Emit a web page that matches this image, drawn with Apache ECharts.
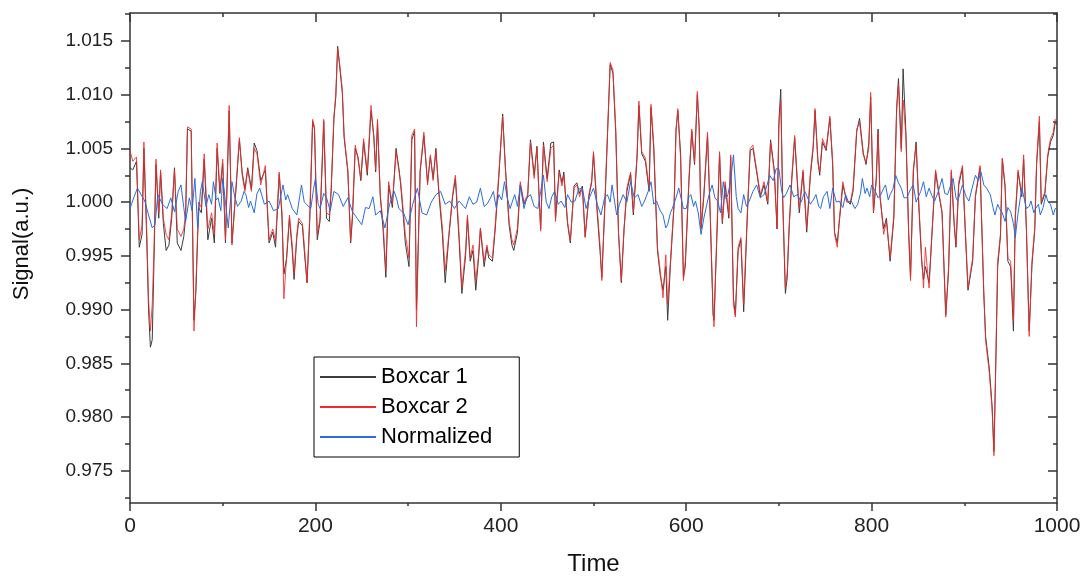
<!DOCTYPE html>
<html>
<head>
<meta charset="utf-8">
<script src="https://cdn.jsdelivr.net/npm/echarts@6/dist/echarts.min.js"></script>
<style>
  html, body { margin: 0; padding: 0; background: #fff; }
  #chart { width: 1081px; height: 578px; }
</style>
</head>
<body>
<div id="chart"></div>
<script>
// boxcar traces share one time base
const boxTime = [
  0,3,7,10,13,15,18,20,22,24,
  26,28,31,33,36,39,42,45,48,51,
  55,58,60,62,66,69,71,74,77,80,
  84,88,91,94,97,100,103,107,110,114,
  118,121,124,127,131,134,137,141,146,150,
  154,157,161,164,166,169,172,175,177,180,
  182,186,188,191,194,197,199,202,205,209,
  212,215,217,220,222,224,226,229,231,235,
  238,240,243,246,249,252,256,260,263,265,
  267,270,273,276,279,283,287,290,292,295,
  297,301,304,307,309,311,313,317,321,324,
  327,330,333,337,340,344,348,351,355,358,
  362,364,367,370,373,376,378,382,385,387,
  391,394,398,402,405,409,412,414,418,421,
  425,429,432,436,439,441,443,446,450,454,
  457,459,463,466,468,472,475,479,482,485,
  488,491,495,498,500,504,507,509,512,515,
  518,521,524,527,530,533,536,540,543,547,
  549,552,556,560,562,565,569,572,575,578,
  580,583,587,589,591,594,597,599,603,606,
  609,612,614,616,619,623,626,629,630,633,
  636,639,642,646,648,651,653,656,659,662,
  666,669,672,676,680,684,688,691,695,698,
  700,702,704,707,709,711,714,717,720,722,
  726,730,734,737,739,742,744,747,751,755,
  758,760,763,765,769,773,777,780,784,787,
  791,794,797,799,802,805,807,809,813,816,
  820,824,827,829,832,834,837,840,842,845,
  848,851,854,856,858,862,865,869,873,876,
  880,883,886,889,891,894,898,901,904,909,
  912,917,921,923,927,930,932,934,936,939,
  941,944,947,950,953,955,958,962,964,967,
  970,973,976,978,981,983,987,990,993,996,
  998,1000
];

const boxcar1 = [
  1.0032,1.0030,1.0038,0.9958,0.9970,1.0050,0.9968,0.9900,0.9865,0.9872,
  0.9950,1.0035,0.9985,1.0028,0.9980,0.9955,0.9960,0.9985,1.0032,0.9962,
  0.9955,0.9968,0.9985,1.0068,1.0066,0.9890,0.9915,0.9995,0.9990,1.0040,
  0.9965,0.9985,0.9962,1.0050,1.0008,1.0036,0.9962,1.0085,0.9962,1.0008,
  1.0058,1.0028,1.0012,1.0032,1.0012,1.0055,1.0048,1.0020,1.0030,0.9962,
  0.9972,0.9958,1.0026,0.9985,0.9933,0.9948,0.9985,0.9955,0.9928,0.9968,
  0.9982,0.9978,0.9955,0.9925,0.9985,1.0075,1.0068,0.9965,0.9982,1.0075,
  0.9985,0.9982,1.0010,1.0078,1.0098,1.0145,1.0128,1.0102,1.0060,1.0028,
  0.9962,0.9985,1.0050,1.0042,1.0020,1.0056,1.0025,1.0085,1.0062,1.0028,
  1.0074,1.0005,0.9975,0.9930,1.0016,0.9995,1.0050,1.0032,1.0016,0.9985,
  0.9962,0.9940,1.0058,1.0066,0.9900,0.9962,1.0028,1.0062,1.0018,1.0042,
  1.0022,1.0050,1.0010,0.9970,0.9925,0.9968,1.0005,1.0022,0.9965,0.9915,
  0.9950,0.9985,0.9945,0.9955,0.9918,0.9948,0.9975,0.9940,0.9958,0.9948,
  0.9945,0.9975,1.0025,1.0082,1.0032,0.9978,0.9960,0.9955,0.9972,1.0016,
  0.9998,1.0005,1.0058,1.0025,1.0052,1.0012,0.9975,1.0056,1.0022,1.0055,
  1.0056,0.9985,1.0030,1.0018,1.0028,0.9980,0.9962,1.0015,1.0018,1.0008,
  1.0015,0.9968,1.0005,1.0018,1.0045,0.9990,0.9955,0.9930,0.9990,1.0060,
  1.0128,1.0120,1.0065,0.9972,0.9925,0.9975,1.0010,1.0026,0.9988,1.0042,
  1.0090,1.0045,1.0038,1.0010,1.0088,1.0050,0.9955,0.9932,0.9918,0.9940,
  0.9890,0.9942,0.9998,1.0066,1.0085,1.0044,0.9930,0.9940,1.0020,1.0066,
  1.0035,1.0100,1.0070,0.9975,1.0005,1.0062,0.9985,0.9895,0.9890,0.9965,
  1.0044,0.9980,1.0016,0.9985,1.0042,0.9910,0.9895,0.9955,0.9965,0.9898,
  0.9988,1.0048,1.0050,1.0028,1.0005,1.0016,0.9998,1.0058,1.0030,0.9975,
  1.0075,1.0105,1.0005,0.9915,0.9930,0.9975,1.0022,1.0060,1.0016,0.9990,
  1.0028,0.9972,1.0025,1.0050,1.0085,1.0040,1.0025,1.0056,1.0048,1.0078,
  1.0035,0.9972,0.9962,0.9980,1.0016,1.0002,0.9998,1.0010,1.0066,1.0078,
  1.0046,1.0035,1.0055,1.0098,0.9990,1.0022,1.0068,1.0005,0.9975,0.9985,
  0.9945,0.9985,1.0088,1.0115,1.0050,1.0124,1.0065,0.9972,0.9930,1.0028,
  1.0056,0.9995,0.9945,0.9928,0.9940,0.9925,0.9968,1.0028,1.0005,0.9990,
  0.9895,0.9935,1.0028,0.9980,0.9958,1.0016,1.0032,0.9974,0.9918,0.9945,
  1.0005,1.0032,0.9915,0.9875,0.9845,0.9810,0.9768,0.9850,0.9940,0.9968,
  1.0040,1.0014,0.9945,0.9940,0.9880,0.9985,1.0028,1.0005,1.0040,0.9974,
  0.9880,0.9942,0.9974,1.0035,1.0075,0.9998,1.0008,1.0042,1.0056,1.0062,
  1.0074,1.0072
];

const boxcar2 = [
  1.0048,1.0038,1.0042,0.9965,0.9978,1.0056,0.9975,0.9910,0.9880,0.9905,
  0.9960,1.0040,0.9990,1.0030,0.9985,0.9970,0.9965,0.9990,1.0030,0.9975,
  0.9968,0.9975,0.9990,1.0070,1.0068,0.9880,0.9920,1.0000,0.9995,1.0045,
  0.9975,0.9990,0.9970,1.0055,1.0010,1.0040,0.9965,1.0090,0.9960,1.0010,
  1.0060,1.0025,1.0010,1.0030,1.0010,1.0050,1.0045,1.0016,1.0034,0.9965,
  0.9975,0.9964,1.0028,0.9990,0.9910,0.9950,0.9988,0.9960,0.9933,0.9970,
  0.9985,0.9980,0.9960,0.9925,0.9990,1.0077,1.0070,0.9970,0.9985,1.0077,
  0.9990,0.9988,1.0013,1.0080,1.0100,1.0143,1.0130,1.0105,1.0062,1.0030,
  0.9964,0.9990,1.0053,1.0040,1.0022,1.0059,1.0028,1.0090,1.0060,1.0030,
  1.0077,1.0007,0.9980,0.9936,1.0019,0.9998,1.0047,1.0030,1.0019,0.9990,
  0.9970,0.9948,1.0062,1.0068,0.9884,0.9960,1.0030,1.0065,1.0016,1.0044,
  1.0020,1.0047,1.0013,0.9976,0.9936,0.9970,1.0007,1.0025,0.9970,0.9920,
  0.9955,0.9988,0.9948,0.9960,0.9927,0.9950,0.9976,0.9945,0.9960,0.9951,
  0.9948,0.9979,1.0028,1.0080,1.0030,0.9982,0.9965,0.9960,0.9976,1.0019,
  1.0000,1.0007,1.0056,1.0022,1.0050,1.0010,0.9973,1.0053,1.0019,1.0050,
  1.0053,0.9982,1.0028,1.0015,1.0025,0.9982,0.9964,1.0013,1.0016,1.0005,
  1.0013,0.9967,1.0007,1.0020,1.0047,0.9994,0.9960,0.9927,0.9994,1.0062,
  1.0130,1.0123,1.0068,0.9970,0.9927,0.9976,1.0013,1.0028,0.9991,1.0044,
  1.0094,1.0047,1.0041,1.0013,1.0091,1.0053,0.9958,0.9936,0.9911,0.9951,
  0.9905,0.9945,1.0000,1.0068,1.0087,1.0040,0.9927,0.9945,1.0022,1.0068,
  1.0037,1.0103,1.0068,0.9976,1.0007,1.0065,0.9988,0.9899,0.9884,0.9970,
  1.0047,0.9982,1.0019,0.9988,1.0044,0.9905,0.9893,0.9958,0.9967,0.9905,
  0.9991,1.0050,1.0053,1.0030,1.0007,1.0019,1.0000,1.0056,1.0028,0.9976,
  1.0071,1.0095,1.0007,0.9920,0.9935,0.9976,1.0025,1.0062,1.0019,0.9994,
  1.0030,0.9976,1.0028,1.0053,1.0087,1.0037,1.0028,1.0059,1.0050,1.0080,
  1.0037,0.9970,0.9958,0.9982,1.0019,1.0000,1.0000,1.0013,1.0068,1.0074,
  1.0044,1.0037,1.0050,1.0102,0.9991,1.0020,1.0065,1.0007,0.9970,0.9982,
  0.9948,0.9988,1.0084,1.0110,1.0047,1.0095,1.0062,0.9970,0.9927,1.0030,
  1.0053,0.9998,0.9948,0.9920,0.9958,0.9920,0.9970,1.0030,1.0007,0.9991,
  0.9893,0.9939,1.0030,0.9982,0.9960,1.0019,1.0034,0.9976,0.9920,0.9948,
  1.0007,1.0034,0.9917,0.9871,0.9841,0.9807,0.9764,0.9853,0.9945,0.9970,
  1.0041,1.0016,0.9948,0.9945,0.9889,0.9988,1.0030,1.0007,1.0044,0.9976,
  0.9875,0.9945,0.9976,1.0037,1.0080,1.0000,1.0010,1.0044,1.0059,1.0065,
  1.0077,1.0075
];

const normTime = [
  0,4,8,12,16,20,24,27,30,35,
  40,44,48,52,55,58,60,64,67,70,
  73,76,78,82,85,88,90,93,95,98,
  100,103,106,110,113,116,120,123,125,128,
  130,134,137,140,145,150,155,160,165,168,
  170,175,180,183,185,188,190,195,198,200,
  203,205,209,212,216,220,225,230,235,240,
  245,250,254,258,262,265,270,275,280,285,
  288,290,295,300,305,310,315,320,325,330,
  335,340,345,350,355,360,362,366,370,374,
  378,382,385,389,392,395,398,401,404,407,
  410,413,415,418,421,425,428,432,436,440,
  443,446,449,452,455,458,462,465,469,472,
  476,480,484,488,492,496,500,504,508,512,
  515,518,520,525,528,532,536,540,544,548,
  552,555,559,562,565,568,572,575,578,580,
  583,585,589,592,594,597,600,603,605,608,
  610,613,616,619,622,625,628,631,634,637,
  640,643,645,648,651,654,656,659,662,665,
  668,672,676,680,684,687,690,694,697,700,
  703,705,708,712,716,720,724,728,731,734,
  737,740,743,745,748,752,755,758,762,765,
  769,772,775,778,782,785,788,790,793,795,
  798,800,804,807,810,813,815,818,820,823,
  826,829,832,835,838,842,845,848,850,853,
  856,859,862,865,868,872,876,879,882,885,
  888,891,893,896,898,902,905,909,912,915,
  918,921,924,928,931,933,936,938,941,944,
  947,950,953,955,958,962,965,967,970,972,
  975,977,980,982,985,988,990,993,996,998,
  1000
];

const normalized = [
  0.9994,1.0004,1.0013,1.0007,1.0001,0.9988,0.9976,0.9979,1.0007,0.9998,
  0.9994,1.0004,0.9991,1.0010,1.0016,0.9995,0.9982,1.0004,0.9992,1.0022,
  0.9976,1.0010,1.0019,0.9996,1.0007,0.9998,1.0019,1.0002,1.0004,0.9992,
  1.0022,1.0000,0.9976,1.0019,1.0005,0.9996,1.0001,1.0010,1.0007,0.9995,
  1.0001,0.9990,1.0008,1.0013,0.9998,1.0001,0.9992,0.9994,1.0016,1.0002,
  1.0007,0.9994,0.9988,1.0005,1.0016,1.0000,1.0001,0.9994,1.0012,1.0022,
  0.9998,0.9994,1.0008,1.0004,0.9992,1.0010,1.0007,0.9996,1.0004,0.9991,
  0.9985,0.9979,0.9995,0.9994,1.0005,0.9988,0.9992,0.9976,0.9998,1.0010,
  1.0002,0.9994,0.9990,0.9979,0.9998,1.0013,0.9990,0.9988,1.0000,1.0007,
  1.0010,0.9998,1.0001,0.9994,1.0001,0.9996,0.9994,1.0005,0.9998,1.0000,
  1.0013,0.9996,0.9998,1.0004,1.0010,0.9995,1.0007,1.0002,1.0019,1.0004,
  0.9994,1.0002,1.0007,0.9996,1.0016,0.9994,1.0004,1.0007,0.9996,0.9994,
  1.0010,1.0025,1.0000,0.9994,1.0005,1.0010,0.9998,1.0001,0.9995,1.0007,
  1.0000,1.0001,1.0012,1.0013,0.9994,1.0005,1.0013,0.9998,0.9988,1.0004,
  1.0007,1.0000,1.0016,0.9988,0.9998,1.0007,1.0000,1.0019,1.0004,1.0007,
  0.9996,1.0001,1.0010,1.0019,0.9998,1.0001,0.9992,0.9988,0.9976,0.9979,
  0.9990,0.9994,1.0004,1.0013,1.0013,0.9994,0.9994,1.0005,1.0007,0.9996,
  1.0001,0.9990,0.9970,0.9985,0.9997,1.0008,1.0016,1.0004,1.0001,0.9990,
  1.0019,1.0003,1.0007,1.0020,1.0044,1.0005,0.9994,0.9990,1.0007,0.9996,
  1.0001,1.0010,1.0016,1.0004,1.0007,1.0015,1.0025,1.0020,1.0031,1.0031,
  1.0010,1.0004,1.0008,1.0016,1.0005,1.0007,1.0000,1.0010,1.0004,0.9998,
  1.0002,1.0007,0.9996,0.9994,1.0005,1.0010,0.9994,1.0013,1.0000,1.0001,
  0.9995,1.0007,1.0000,1.0001,0.9994,0.9998,1.0008,1.0022,1.0008,1.0013,
  1.0005,1.0016,1.0010,1.0004,1.0007,1.0013,1.0016,1.0002,1.0007,1.0012,
  1.0025,1.0018,1.0013,1.0004,1.0004,1.0012,1.0016,1.0000,1.0001,1.0010,
  1.0019,1.0005,1.0013,1.0006,1.0001,1.0010,1.0022,1.0008,1.0007,1.0015,
  1.0022,1.0004,1.0001,1.0010,1.0016,1.0005,1.0001,1.0015,1.0025,1.0020,
  1.0028,1.0016,1.0013,1.0007,0.9995,0.9988,0.9998,0.9994,0.9990,0.9982,
  0.9995,0.9991,0.9980,0.9967,0.9990,1.0013,1.0002,0.9994,0.9996,1.0001,
  0.9990,0.9994,0.9998,0.9988,0.9995,1.0007,1.0001,0.9998,0.9988,0.9994,
  0.9994
];

// axis ticks
const xMajor = [0, 200, 400, 600, 800, 1000];
const xMinor = [100, 300, 500, 700, 900];
const yMajor = [0.975, 0.980, 0.985, 0.990, 0.995, 1.000, 1.005, 1.010, 1.015];
const yMinor = [0.9725, 0.9775, 0.9825, 0.9875, 0.9925, 0.9975, 1.0025, 1.0075, 1.0125, 1.0175];

const seriesNames = ['Boxcar 1', 'Boxcar 2', 'Normalized'];
const seriesColors = ['#3c3c3c', '#f22a2a', '#2a6ddc'];

function pairs(xs, ys) {
  return xs.map((x, i) => [x, ys[i]]);
}

const frame = { color: '#333', width: 1.5 };
const sans = 'Liberation Sans, Arial, sans-serif';
const narrow = 'Liberation Sans Narrow, Arial Narrow, Liberation Sans, sans-serif';

function xAx(pos, ticks, len, inside, withLine, withLabel) {
  return {
    type: 'value', min: 0, max: 1000, position: pos,
    axisLine: { show: withLine, onZero: false, lineStyle: frame },
    axisTick: { show: true, customValues: ticks, length: len, inside: inside, lineStyle: frame },
    axisLabel: withLabel
      ? { show: true, customValues: ticks, formatter: v => String(v), fontSize: 21, color: '#222', fontFamily: narrow, margin: 13 }
      : { show: false },
    splitLine: { show: false }
  };
}

function yAx(pos, ticks, len, inside, withLine, withLabel) {
  return {
    type: 'value', min: 0.972, max: 1.0176, position: pos,
    axisLine: { show: withLine, onZero: false, lineStyle: frame },
    axisTick: { show: true, customValues: ticks, length: len, inside: inside, lineStyle: frame },
    axisLabel: withLabel
      ? { show: true, customValues: ticks, formatter: v => v.toFixed(3), fontSize: 19, color: '#222', fontFamily: sans, margin: 17 }
      : { show: false },
    splitLine: { show: false }
  };
}

const xAxes = [
  xAx('bottom', xMajor, 8, false, true, true),
  xAx('bottom', xMinor, 3, false, false, false),
  xAx('top', xMajor, 9, true, true, false),
  xAx('top', xMinor, 4, true, false, false)
];
xAxes[0].name = 'Time';
xAxes[0].nameLocation = 'middle';
xAxes[0].nameGap = 49;
xAxes[0].nameTextStyle = { fontSize: 24, color: '#111', fontFamily: narrow };

const yAxes = [
  yAx('left', yMajor, 9, false, true, true),
  yAx('left', yMinor, 5, false, false, false),
  yAx('right', yMajor, 9, true, true, false),
  yAx('right', yMinor, 4, true, false, false)
];
yAxes[0].name = 'Signal(a.u.)';
yAxes[0].nameLocation = 'middle';
yAxes[0].nameGap = 97;
yAxes[0].nameTextStyle = { fontSize: 22, color: '#111', fontFamily: sans, padding: [0, 0, 0, 28] };

const option = {
  animation: false,
  backgroundColor: '#fff',
  grid: { left: 130, right: 24, top: 13, bottom: 75, containLabel: false, outerBoundsMode: 'none' },
  xAxis: xAxes,
  yAxis: yAxes,
  legend: {
    data: seriesNames,
    orient: 'vertical',
    left: 314,
    top: 357,
    padding: [9, 27, 9, 6],
    itemGap: 8,
    itemWidth: 56,
    itemHeight: 2,
    icon: 'rect',
    borderColor: '#000',
    borderWidth: 1,
    borderRadius: 0,
    backgroundColor: '#fff',
    textStyle: { fontSize: 22, lineHeight: 22, color: '#000', fontFamily: sans }
  },
  series: [
    {
      name: seriesNames[0], type: 'line', showSymbol: false, z: 2,
      data: pairs(boxTime, boxcar1),
      lineStyle: { color: seriesColors[0], width: 1 },
      itemStyle: { color: seriesColors[0] }
    },
    {
      name: seriesNames[1], type: 'line', showSymbol: false, z: 3,
      data: pairs(boxTime, boxcar2),
      lineStyle: { color: seriesColors[1], width: 1, opacity: 0.85 },
      itemStyle: { color: seriesColors[1] }
    },
    {
      name: seriesNames[2], type: 'line', showSymbol: false, z: 4,
      data: pairs(normTime, normalized),
      lineStyle: { color: seriesColors[2], width: 1 },
      itemStyle: { color: seriesColors[2] }
    }
  ]
};

const myChart = echarts.init(document.getElementById('chart'));
myChart.setOption(option);
</script>
</body>
</html>
